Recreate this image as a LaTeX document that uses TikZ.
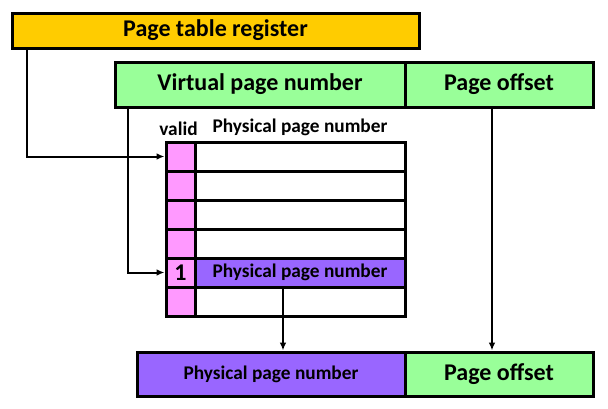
\documentclass[tikz,border=0pt]{standalone}
\usepackage{fontspec}
\setmainfont{Carlito}
\usetikzlibrary{arrows.meta,positioning}
\definecolor{regcol}{HTML}{FFCC00}
\definecolor{vpncol}{HTML}{99FF99}
\definecolor{ppncol}{HTML}{9966FF}
\definecolor{bitcol}{HTML}{FF99FF}
\begin{document}
\begin{tikzpicture}[x=0.75pt,y=-0.75pt,
  box/.style={draw,line width=2.25pt,inner sep=0pt,font=\bfseries\fontsize{18}{21}\selectfont},
  cell/.style={box,minimum height=21.75pt},
  small/.style={font=\bfseries\fontsize{14.5}{17}\selectfont},
  link/.style={line width=1.5pt,-{Latex[length=6pt,width=5pt]}}]
\useasboundingbox (0,0) rectangle (608,408);
% registers
\node[box,fill=regcol,minimum width=305.25pt,minimum height=26.25pt] (ptr) at (215.5,30.5) {Page table register};
\node[box,fill=vpncol,minimum width=217.5pt,minimum height=33.75pt] (vpn) at (260,84.5) {Virtual page number};
\node[box,fill=vpncol,minimum width=141pt,minimum height=33.75pt] (off) at (499,84.5) {Page offset};
% page table
\foreach \i in {1,2,3,4,6} {
  \node[cell,fill=bitcol,minimum width=21.75pt] (v\i) at (180.5,127.5+29*\i) {};
  \node[cell,minimum width=157.5pt] (p\i) at (300,127.5+29*\i) {};
}
\node[cell,fill=bitcol,minimum width=21.75pt] (v5) at (180.5,272.5) {1};
\node[cell,fill=ppncol,minimum width=157.5pt,small] (p5) at (300,272.5) {Physical page number};
\node[small,above=0pt of v1,xshift=-1.5pt] (validlbl) {valid};
\node[small,above=0pt of p1] (ppnlbl) {Physical page number};
% physical address
\node[box,fill=ppncol,minimum width=201pt,minimum height=33pt,small] (bppn) at (271,374) {Physical page number};
\node[box,fill=vpncol,minimum width=141pt,minimum height=33pt] (boff) at (499,374) {Page offset};
% links
\draw[link] ([xshift=12pt]ptr.south west) |- (v1.west);
\draw[link] ([xshift=10.5pt]vpn.south west) |- (v5.west);
\draw[link] ([xshift=-5.25pt]off.south) -- ([xshift=-5.25pt]boff.north);
\draw[link] ([xshift=-12.75pt]p5.south) -- ([xshift=-12.75pt]p5.south |- bppn.north);
\end{tikzpicture}
\end{document}
